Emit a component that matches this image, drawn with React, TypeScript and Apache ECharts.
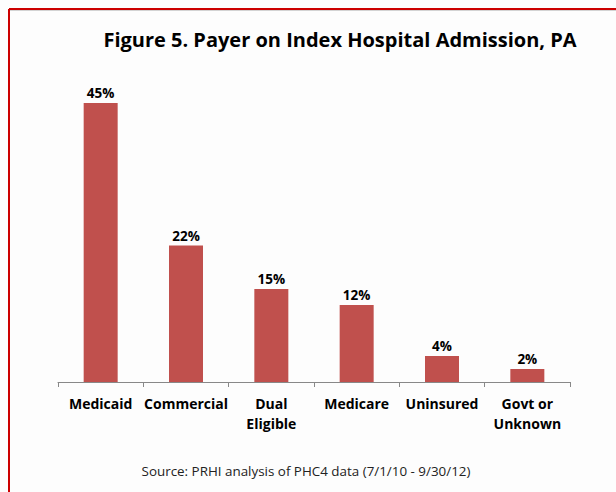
import React, { useEffect, useRef } from "react";
import * as echarts from "echarts";

const categories = ["Medicaid", "Commercial", "Dual\nEligible", "Medicare", "Uninsured", "Govt or\nUnknown"];
const values = [45, 22, 15, 12.4, 4.2, 2.1];
const titleText = "Figure 5. Payer on Index Hospital Admission, PA";
const sourceText = "Source: PRHI analysis of PHC4 data (7/1/10 - 9/30/12)";

export default function App() {
  const ref = useRef<HTMLDivElement>(null);
  useEffect(() => {
    const chart = echarts.init(ref.current!, null, { renderer: "svg" });
    const font = "Open Sans, Noto Sans, sans-serif";
    chart.setOption({
      animation: false,
      backgroundColor: "#fdfdfd",
      title: {
        text: titleText,
        left: 335,
        textAlign: "center",
        top: 24,
        textStyle: { fontFamily: font, fontSize: 20, fontWeight: "bold", color: "#000" },
      },
      grid: { left: 58, right: 46, top: 72, bottom: 110, containLabel: false },
      xAxis: {
        type: "category",
        data: categories,
        axisLine: { lineStyle: { color: "#888" } },
        axisTick: { show: true, length: 5, lineStyle: { color: "#888" } },
        axisLabel: {
          interval: 0,
          margin: 11,
          fontFamily: font,
          fontSize: 14,
          fontWeight: "bold",
          color: "#000",
          lineHeight: 20,
        },
      },
      yAxis: {
        type: "value",
        min: 0,
        max: 50,
        show: false,
        splitLine: { show: false },
      },
      series: [
        {
          type: "bar",
          data: values,
          barWidth: 34,
          itemStyle: { color: "#c0504d" },
          label: {
            show: true,
            position: "top",
            distance: 3,
            formatter: (p: any) => Math.round(p.value) + "%",
            fontFamily: font,
            fontSize: 13.5,
            fontWeight: "bold",
            color: "#000",
          },
        },
      ],
      graphic: [
        {
          type: "line",
          shape: { x1: 9, y1: 10, x2: 616, y2: 10 },
          style: { stroke: "#aaaaaa", lineWidth: 1 },
        },
        {
          type: "line",
          shape: { x1: 9, y1: 9, x2: 616, y2: 9 },
          style: { stroke: "#cc0000", lineWidth: 2 },
        },
        {
          type: "line",
          shape: { x1: 9, y1: 9, x2: 9, y2: 492 },
          style: { stroke: "#cc0000", lineWidth: 2 },
        },
        {
          type: "text",
          x: 306,
          y: 471,
          style: {
            text: sourceText,
            fontFamily: font,
            fontSize: 13.4,
            fill: "#222",
            textAlign: "center",
            textVerticalAlign: "middle",
          },
        },
      ],
    });
    return () => chart.dispose();
  }, []);
  return (
    <div
      ref={ref}
      style={{ position: "fixed", left: 0, top: 0, width: 616, height: 492 }}
    />
  );
}
